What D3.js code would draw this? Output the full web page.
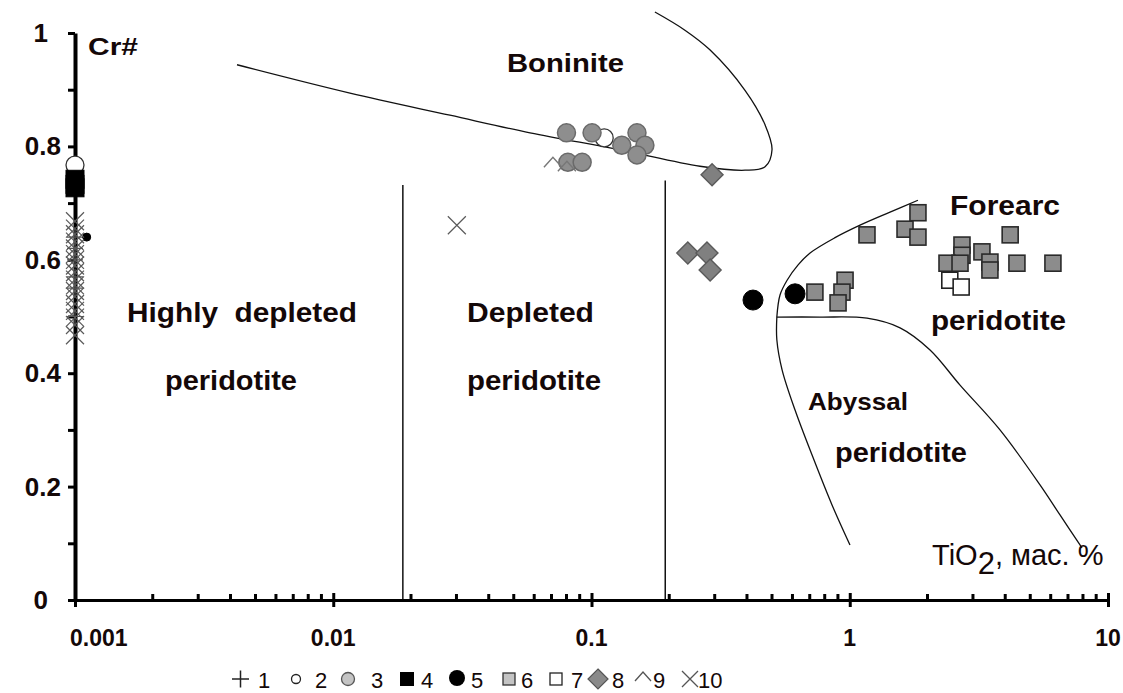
<!DOCTYPE html>
<html><head><meta charset="utf-8">
<script src="https://cdn.jsdelivr.net/npm/d3@7"></script>
<style>
body{margin:0;background:#fff}
svg text{font-family:"Liberation Sans",Arial,sans-serif}
</style>
</head><body>
<svg id="c" width="1123" height="693"></svg>
<script>
// ---------- DATA ----------
const xTicks = [0.001, 0.01, 0.1, 1, 10];
const xTickLabels = ["0.001", "0.01", "0.1", "1", "10"];
const yTicks = [0, 0.2, 0.4, 0.6, 0.8, 1];
const yTickLabels = ["0", "0.2", "0.4", "0.6", "0.8", "1"];

// series: [TiO2 (wt.%), Cr#]
const series1 = [[0.001,0.50],[0.001,0.55],[0.001,0.57],[0.001,0.60],[0.001,0.62],[0.001,0.64]];
const series2 = [[0.001,0.767],[0.112,0.815]];
const series3 = [[0.080,0.824],[0.1005,0.824],[0.131,0.802],[0.150,0.824],[0.161,0.802],[0.150,0.785],[0.081,0.772],[0.092,0.772]];
const series4 = [[0.001,0.742],[0.001,0.733],[0.001,0.727]];
const series5 = [[0.422,0.529],[0.614,0.540]];
const series5Axis = [[0.00111,0.640]];
const series6 = [[0.733,0.543],[0.959,0.564],[0.933,0.543],[0.901,0.524],[1.166,0.644],[1.637,0.654],[1.837,0.640],[1.837,0.683],
                 [2.72,0.626],[2.72,0.608],[2.38,0.594],[2.673,0.594],[3.25,0.614],[3.49,0.596],[3.49,0.582],[4.18,0.644],[4.44,0.594],[6.12,0.594]];
const series7 = [[2.44,0.564],[2.70,0.552]];
const series8 = [[0.293,0.750],[0.236,0.612],[0.280,0.612],[0.288,0.582]];
const series9 = [[0.0709,0.772],[0.0803,0.765]];
const series10 = [[0.0301,0.661],[0.001,0.668],[0.001,0.655],[0.001,0.645],[0.001,0.632],[0.001,0.620],[0.001,0.610],[0.001,0.600],
                  [0.001,0.590],[0.001,0.578],[0.001,0.565],[0.001,0.555],[0.001,0.545],[0.001,0.535],[0.001,0.522],[0.001,0.510],
                  [0.001,0.498],[0.001,0.485],[0.001,0.467]];

// field boundaries [TiO2, Cr#]
const boniniteCurve = [[0.00424,0.944],[0.01161,0.894],[0.0283,0.855],[0.0578,0.824],[0.1288,0.794],[0.263,0.765],[0.393,0.758],
                       [0.470,0.764],[0.500,0.794],[0.470,0.838],[0.393,0.899],[0.288,0.970],[0.230,1.005],[0.176,1.037]];
const forearcUpper = [[0.522,0.499],[0.537,0.538],[0.572,0.564],[0.631,0.591],[0.702,0.612],[0.877,0.639],[1.096,0.661],[1.432,0.684],[1.837,0.705]];
const forearcLower = [[0.522,0.499],[0.767,0.499],[1.166,0.497],[1.566,0.480],[2.046,0.441],[2.673,0.379],[3.817,0.300],[5.454,0.203],[6.518,0.150],[7.930,0.092]];
const abyssalLeft = [[0.522,0.499],[0.522,0.459],[0.547,0.406],[0.614,0.335],[0.714,0.256],[0.853,0.168],[1.002,0.097]];
const dividerX = [0.0186, 0.193];
const dividerTop = [0.732, 0.740];

const legendKeys = ["1","2","3","4","5","6","7","8","9","10"];

// ---------- CHART ----------
const svg = d3.select("#c");
const x = d3.scaleLog().domain([0.001, 10]).range([75, 1108]);
const y = d3.scaleLinear().domain([0, 1]).range([600, 33]);
const ink = "#140808";

// boundaries
const line = d3.line().x(d => x(d[0])).y(d => y(d[1])).curve(d3.curveCatmullRom.alpha(0.5));
[boniniteCurve, forearcUpper, forearcLower, abyssalLeft].forEach(c =>
  svg.append("path").attr("d", line(c)).attr("fill", "none").attr("stroke", "#111").attr("stroke-width", 1.3));
dividerX.forEach((v, i) =>
  svg.append("line").attr("x1", x(v)).attr("x2", x(v)).attr("y1", y(0)).attr("y2", y(dividerTop[i]))
    .attr("stroke", "#111").attr("stroke-width", 1.5));

// axes
const gy = svg.append("g").attr("transform", `translate(${x(0.001)},0)`)
  .call(d3.axisLeft(y).tickValues(d3.range(0, 11).map(i => i / 10)).tickSize(7).tickSizeOuter(0).tickFormat(""));
gy.select(".domain").attr("stroke", "#000").attr("stroke-width", 4);
gy.selectAll(".tick line").attr("stroke", "#000").attr("stroke-width", 3);

const gx = svg.append("g").attr("transform", `translate(0,${y(0)})`)
  .call(d3.axisBottom(x).tickValues(xTicks).tickSize(7).tickSizeOuter(0).tickFormat(""));
gx.select(".domain").attr("stroke", "#000").attr("stroke-width", 3);
gx.selectAll(".tick line").attr("stroke", "#000").attr("stroke-width", 3).attr("y1", -7);
const minor = x.ticks().filter(v => !xTicks.some(t => Math.abs(t - v) / t < 1e-6));
gx.selectAll(".minor").data(minor).enter().append("line")
  .attr("x1", d => x(d)).attr("x2", d => x(d)).attr("y1", 0).attr("y2", -6)
  .attr("stroke", "#000").attr("stroke-width", 3);

// tick labels
svg.selectAll(".xl").data(xTicks).enter().append("text")
  .attr("x", (d, i) => i === 0 ? x(d) - 5 : x(d))
  .attr("y", 646).attr("text-anchor", (d, i) => i === 0 ? "start" : "middle")
  .attr("font-size", 23).attr("font-weight", "bold").attr("fill", ink)
  .text((d, i) => xTickLabels[i]);
svg.selectAll(".yl").data(yTicks).enter().append("text")
  .attr("x", (d, i) => (i === 0 || i === yTicks.length - 1) ? 48 : 61)
  .attr("y", d => y(d) + 9).attr("text-anchor", "end")
  .attr("font-size", 26).attr("font-weight", "bold").attr("fill", ink)
  .text((d, i) => yTickLabels[i]);

// symbols
function circle(g, data, r, fill, stroke, sw) {
  g.selectAll(null).data(data).enter().append("circle")
    .attr("cx", d => x(d[0])).attr("cy", d => y(d[1])).attr("r", r)
    .attr("fill", fill).attr("stroke", stroke).attr("stroke-width", sw);
}
function square(g, data, s, fill, stroke, sw) {
  g.selectAll(null).data(data).enter().append("rect")
    .attr("x", d => x(d[0]) - s / 2).attr("y", d => y(d[1]) - s / 2).attr("width", s).attr("height", s)
    .attr("fill", fill).attr("stroke", stroke).attr("stroke-width", sw);
}
function diamond(g, data, h, fill, stroke, sw) {
  g.selectAll(null).data(data).enter().append("path")
    .attr("d", d => { const cx = x(d[0]), cy = y(d[1]); return `M${cx},${cy-h}L${cx+h},${cy}L${cx},${cy+h}L${cx-h},${cy}Z`; })
    .attr("fill", fill).attr("stroke", stroke).attr("stroke-width", sw);
}
function cross(g, data, h, stroke, sw) {
  g.selectAll(null).data(data).enter().append("path")
    .attr("d", d => { const cx = x(d[0]), cy = y(d[1]); return `M${cx-h},${cy-h}L${cx+h},${cy+h}M${cx-h},${cy+h}L${cx+h},${cy-h}`; })
    .attr("fill", "none").attr("stroke", stroke).attr("stroke-width", sw);
}
function plus(g, data, h, stroke, sw) {
  g.selectAll(null).data(data).enter().append("path")
    .attr("d", d => { const cx = x(d[0]), cy = y(d[1]); return `M${cx-h},${cy}L${cx+h},${cy}M${cx},${cy-h}L${cx},${cy+h}`; })
    .attr("fill", "none").attr("stroke", stroke).attr("stroke-width", sw);
}
function caret(g, data, w, h, stroke, sw) {
  g.selectAll(null).data(data).enter().append("path")
    .attr("d", d => { const cx = x(d[0]), cy = y(d[1]); return `M${cx-w},${cy+h/2}L${cx},${cy-h/2}L${cx+w},${cy+h/2}`; })
    .attr("fill", "none").attr("stroke", stroke).attr("stroke-width", sw);
}

const pts = svg.append("g");
plus(pts, series1, 8, "#555", 1.2);
circle(pts, series2, 9, "#fff", "#333", 1.3);
circle(pts, series3, 9, "#8e8e8e", "#6a6a6a", 1.5);
square(pts, series4, 18, "#000", "#000", 1);
circle(pts, series5, 10, "#000", "#000", 1);
circle(pts, series5Axis, 4, "#000", "#000", 1);
square(pts, series6, 16, "#8c8c8c", "#2a2a2a", 1.6);
square(pts, series7, 16, "#fff", "#222", 1.6);
diamond(pts, series8, 11, "#808080", "#5a5a5a", 1.4);
caret(pts, series9, 9, 10, "#777", 1.4);
cross(pts, series10, 9, "#5a5a5a", 1.2);

// field labels
const labels = [
  {t: "Cr#", x: 88, y: 55, w: 50, s: 24},
  {t: "Boninite", x: 507, y: 72, w: 117, s: 26},
  {t: "Highly  depleted", x: 127, y: 322, w: 230, s: 27},
  {t: "peridotite", x: 165, y: 390, w: 132, s: 27},
  {t: "Depleted", x: 467, y: 322, w: 127, s: 27},
  {t: "peridotite", x: 467, y: 390, w: 134, s: 27},
  {t: "Forearc", x: 950, y: 215, w: 110, s: 27},
  {t: "peridotite", x: 931, y: 330, w: 135, s: 27},
  {t: "Abyssal", x: 808, y: 410, w: 100, s: 24},
  {t: "peridotite", x: 835, y: 462, w: 132, s: 27}
];
svg.selectAll(".lab").data(labels).enter().append("text")
  .attr("x", d => d.x).attr("y", d => d.y).attr("font-size", d => d.s).attr("font-weight", "bold")
  .attr("fill", ink).attr("textLength", d => d.w).attr("lengthAdjust", "spacingAndGlyphs")
  .style("white-space", "pre").text(d => d.t);

const tio = svg.append("text").attr("x", 932).attr("y", 565).attr("font-size", 29).attr("fill", ink);
tio.append("tspan").text("TiO");
tio.append("tspan").attr("dy", 9).attr("font-size", 31).text("2");
tio.append("tspan").attr("dy", -9).text(", мас. %");

// legend
const lg = svg.append("g");
const ly = 679;
const lgText = [258, 315, 371, 421, 471, 521, 571, 612, 653, 698];
lg.append("path").attr("d", `M232,${ly}h17M240.5,${ly-8.5}v17`).attr("stroke", "#222").attr("stroke-width", 1.5);
lg.append("circle").attr("cx", 296).attr("cy", ly).attr("r", 4.5).attr("fill", "#fff").attr("stroke", "#222").attr("stroke-width", 1.3);
lg.append("circle").attr("cx", 348).attr("cy", ly).attr("r", 6.5).attr("fill", "#c4c4c4").attr("stroke", "#555").attr("stroke-width", 1.3);
lg.append("rect").attr("x", 400).attr("y", ly - 7).attr("width", 14).attr("height", 14).attr("fill", "#000");
lg.append("circle").attr("cx", 457).attr("cy", ly - 1).attr("r", 8).attr("fill", "#000");
lg.append("rect").attr("x", 503).attr("y", ly - 6).attr("width", 12).attr("height", 12).attr("fill", "#c4c4c4").attr("stroke", "#333").attr("stroke-width", 1.3);
lg.append("rect").attr("x", 550).attr("y", ly - 6).attr("width", 12).attr("height", 12).attr("fill", "#fff").attr("stroke", "#222").attr("stroke-width", 1.3);
lg.append("path").attr("d", `M598,${ly-10}L608,${ly}L598,${ly+10}L588,${ly}Z`).attr("fill", "#8a8a8a").attr("stroke", "#555").attr("stroke-width", 1.2);
lg.append("path").attr("d", `M635,${ly+2}L643,${ly-7}L651,${ly+2}`).attr("fill", "none").attr("stroke", "#555").attr("stroke-width", 1.3);
lg.append("path").attr("d", `M682,${ly-8}L698,${ly+8}M682,${ly+8}L698,${ly-8}`).attr("fill", "none").attr("stroke", "#555").attr("stroke-width", 1.3);
lg.selectAll(".lt").data(legendKeys).enter().append("text")
  .attr("x", (d, i) => lgText[i]).attr("y", 688).attr("font-size", 22).attr("fill", ink).text(d => d);
</script>
</body></html>
